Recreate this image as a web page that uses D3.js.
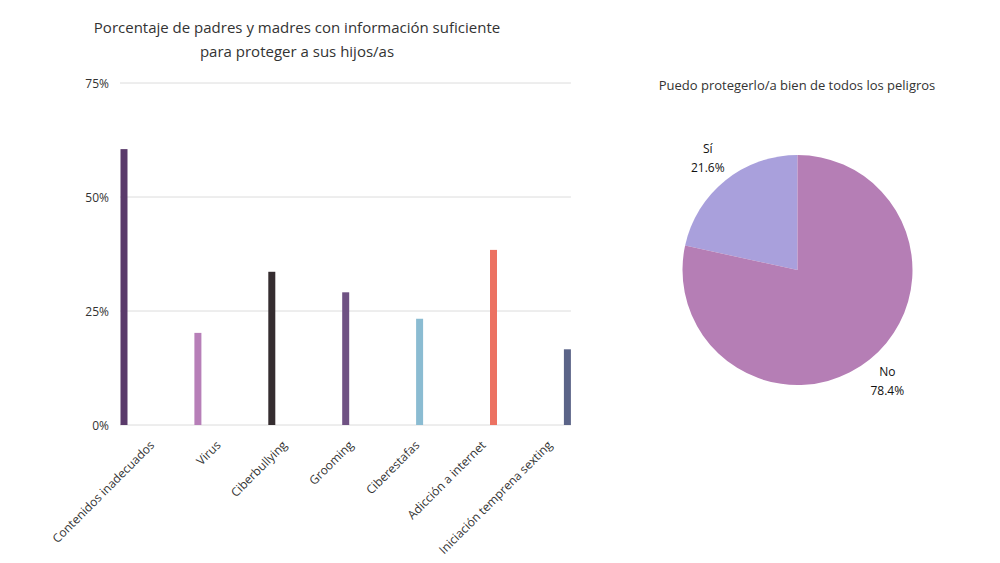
<!DOCTYPE html>
<html><head><meta charset="utf-8">
<script src="https://cdn.jsdelivr.net/npm/d3@7"></script>
<style>body{margin:0;background:#fff;} text{font-family:"Open Sans",sans-serif;}</style>
</head><body>
<svg id="c" width="1000" height="563"></svg>
<script>
const categories = ["Contenidos inadecuados","Virus","Ciberbullying","Grooming","Ciberestafas","Adicción a internet","Iniciación temprena sexting"];
const values = [60.5, 20.2, 33.6, 29.1, 23.3, 38.4, 16.6];
const barColors = ["#5a3a6b","#b77fb8","#352d30","#6f5283","#8bbcd2","#ec7262","#5b6488"];
const yTicks = [0, 25, 50, 75];
const pieLabels = ["Sí","No"];
const pieValues = [21.6, 78.4];
const pieColors = ["#a9a0dc","#b57eb5"];

const svg = d3.select("#c");
const txt = "#333";

// Title
svg.append("text").attr("x",297).attr("y",33).attr("text-anchor","middle").attr("font-size",15).attr("fill",txt).text("Porcentaje de padres y madres con información suficiente");
svg.append("text").attr("x",297).attr("y",57).attr("text-anchor","middle").attr("font-size",15).attr("fill",txt).text("para proteger a sus hijos/as");

const x = d3.scaleBand().domain(categories).range([120.5, 120.5 + 7*73.9]).paddingInner(0).paddingOuter(0);
const xLab = d3.scaleBand().domain(categories).range([120, 584]);
const y = d3.scaleLinear().domain([0,75]).range([425, 83]);
const barW = 7;
const gridRight = x(categories[categories.length-1]) + barW;

const g = svg.append("g");
g.selectAll("line.grid").data(yTicks).enter().append("line")
  .attr("x1",120).attr("x2",gridRight).attr("y1",d=>y(d)).attr("y2",d=>y(d))
  .attr("stroke","#dcdcdc").attr("stroke-width",1);
g.selectAll("text.yt").data(yTicks).enter().append("text")
  .attr("x",109).attr("y",d=>y(d)+5).attr("text-anchor","end").attr("font-size",12).attr("fill",txt).text(d=>d+"%");

g.selectAll("rect.bar").data(values).enter().append("rect")
  .attr("x",(d,i)=>x(categories[i])).attr("width",barW)
  .attr("y",d=>y(d)).attr("height",d=>y(0)-y(d))
  .attr("fill",(d,i)=>barColors[i]);

g.selectAll("text.xl").data(categories).enter().append("text")
  .attr("transform",d=>`translate(${xLab(d)+xLab.bandwidth()/2+2},${446}) rotate(-45)`)
  .attr("text-anchor","end").attr("font-size",12).attr("fill",txt).text(d=>d);

// Pie
const cx = 797.5, cy = 270, r = 115;
svg.append("text").attr("x",797).attr("y",90).attr("text-anchor","middle").attr("font-size",13).attr("fill",txt).text("Puedo protegerlo/a bien de todos los peligros");
const pie = d3.pie().sort(null).value(d=>d).startAngle(0).endAngle(-2*Math.PI);
const arcs = pie(pieValues);
const arc = d3.arc().innerRadius(0).outerRadius(r);
const pg = svg.append("g").attr("transform",`translate(${cx},${cy})`);
pg.selectAll("path").data(arcs).enter().append("path").attr("d",arc).attr("fill",(d,i)=>pieColors[i]);
const lab = d3.arc().innerRadius(r+28).outerRadius(r+28);
pg.selectAll("g.pl").data(arcs).enter().append("text")
  .attr("transform",d=>{const c=lab.centroid(d);return `translate(${c[0]},${c[1]})`;})
  .attr("text-anchor","middle").attr("font-size",12).attr("fill","#111")
  .each(function(d,i){
    const t=d3.select(this);
    t.append("tspan").attr("x",0).attr("y",-5.5).text(pieLabels[i]);
    t.append("tspan").attr("x",0).attr("y",13.5).text(pieValues[i].toFixed(1)+"%");
  });
</script>
</body></html>
